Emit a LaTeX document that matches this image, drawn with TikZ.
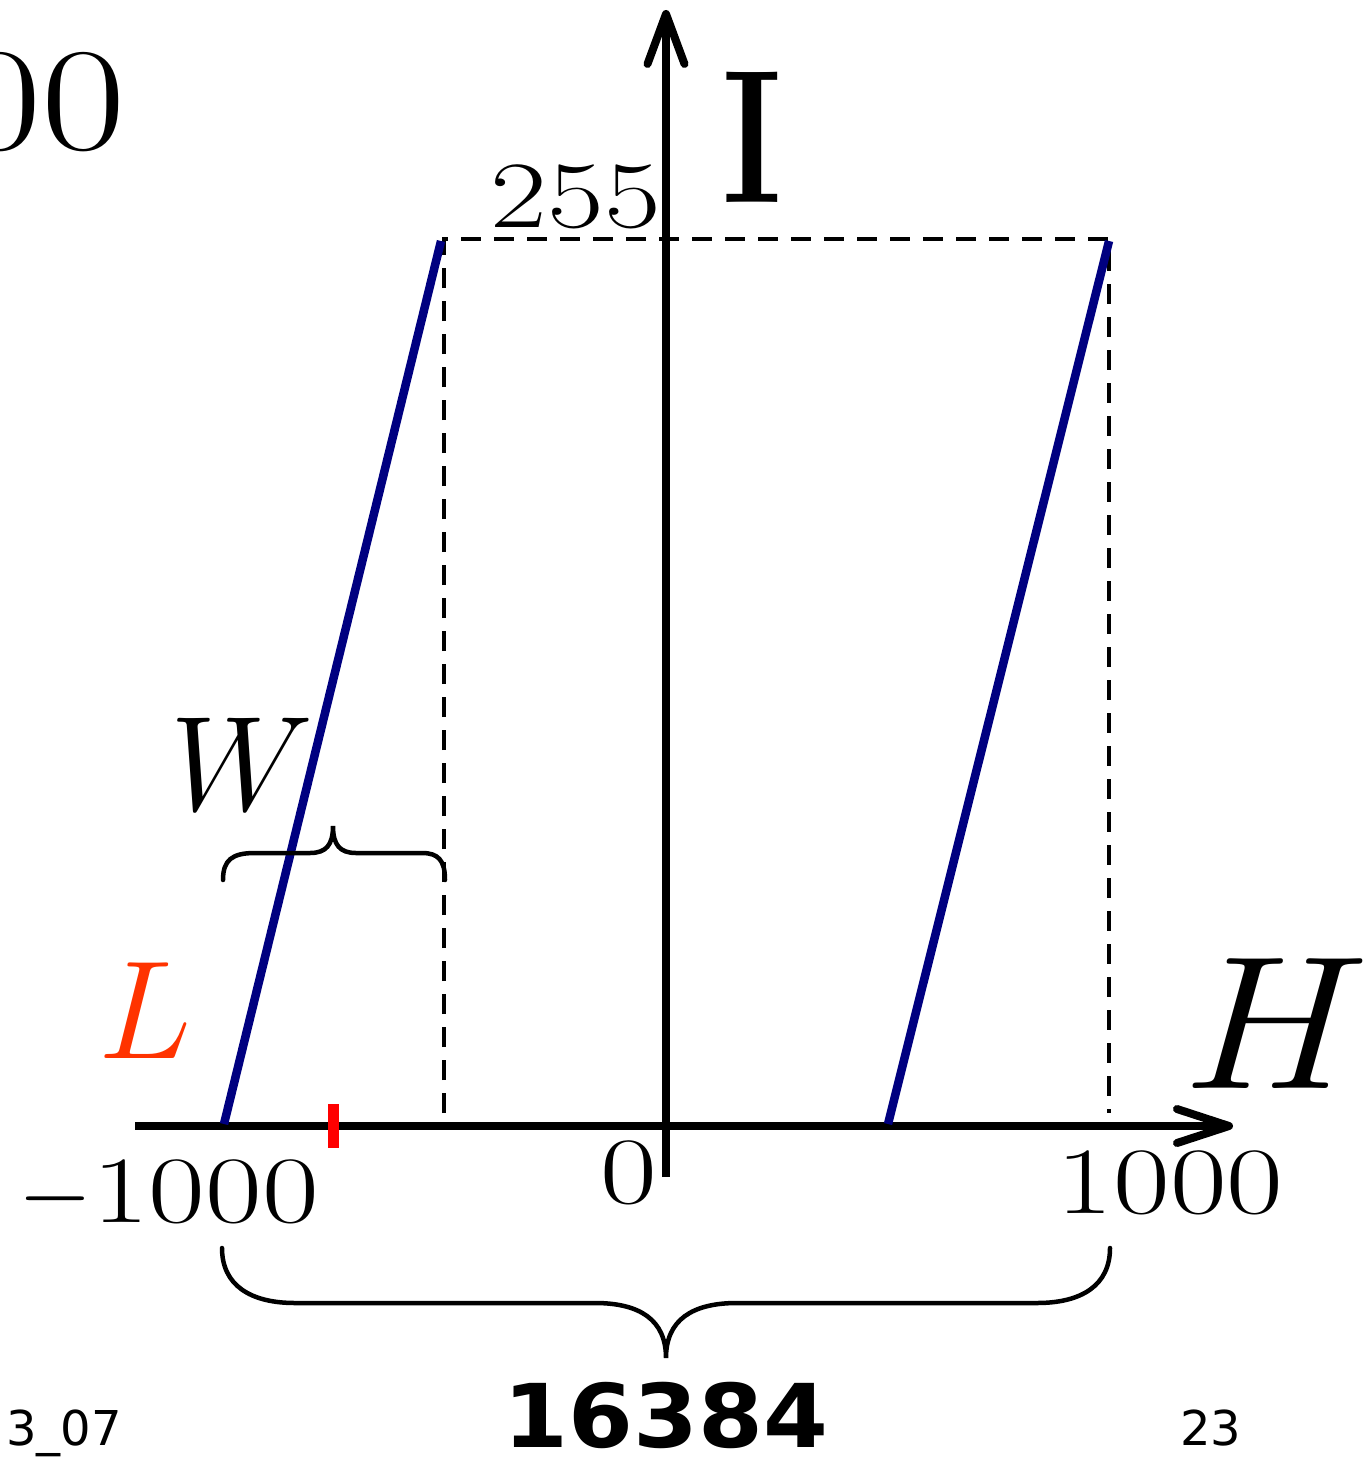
\RequirePackage{fix-cm}
\documentclass[tikz,border=0pt]{standalone}
\usepackage{fontspec}
\usepackage{graphicx}
\newfontfamily\dejavu{DejaVu Sans}
\usetikzlibrary{arrows.meta}
\definecolor{navyline}{RGB}{0,0,128}
\definecolor{lred}{RGB}{255,51,0}
\definecolor{tickred}{RGB}{255,0,0}
\begin{document}
\begin{tikzpicture}[x=1pt,y=-1pt,
  axis/.style={line width=8pt},
  dashline/.style={line width=4pt,dash pattern=on 20pt off 13pt},
  ramp/.style={line width=8.5pt,draw=navyline},
  bracepath/.style={line width=4.5pt,line cap=round},
  lbl/.style={inner sep=0pt,outer sep=0pt},
  num/.style={lbl,font=\fontsize{95}{100}\selectfont},
  tipH/.style={-{Straight Barb[length=52pt,width=34pt,line cap=round,line join=round]}},
  tipV/.style={-{Straight Barb[length=50pt,width=37pt,line cap=round,line join=round]}}]
\useasboundingbox (0,0) rectangle (1372,1458);
% coordinates
\coordinate (hstart) at (135,1126);
\coordinate (hend) at (1233,1126);
\coordinate (vstart) at (666,1177);
\coordinate (vend) at (666,10);
\coordinate (ltop) at (444,239);
\coordinate (rtop) at (1109,239);
\coordinate (lbot) at (444,1113);
\coordinate (rbot) at (1109,1113);
\coordinate (b1a) at (224,1124);
\coordinate (b1b) at (441,241);
\coordinate (b2a) at (888,1124);
\coordinate (b2b) at (1109,241);
\coordinate (tka) at (333,1104);
\coordinate (tkb) at (333,1148);
% dashed rectangle
\draw[dashline] (lbot) -- (ltop) -- (rtop) -- (rbot);
% axes
\draw[axis,tipH] (hstart) -- (hend);
\draw[axis,tipV] (vstart) -- (vend);
% ramps
\draw[ramp] (b1a) -- (b1b);
\draw[ramp] (b2a) -- (b2b);
% red tick
\draw[line width=11pt,draw=tickred] (tka) -- (tkb);
% small brace
\draw[bracepath] (223,880) .. controls (223,860) and (232,853) .. (255,853) -- (310,853)
  .. controls (326,853) and (333,845) .. (333,826)
  .. controls (333,845) and (340,853) .. (356,853) -- (422,853)
  .. controls (438,853) and (445,860) .. (445,880);
% big brace
\draw[bracepath] (222,1248) .. controls (222,1285) and (250,1303) .. (295,1303) -- (595,1303)
  .. controls (640,1303) and (666,1320) .. (666,1358)
  .. controls (666,1320) and (692,1303) .. (737,1303) -- (1037,1303)
  .. controls (1082,1303) and (1110,1285) .. (1110,1248);
% labels
\node[num,anchor=base] (t255) at (576,227) {\scalebox{1.3}[1]{255}};
\node[num,anchor=base] (t0) at (629,1203) {\scalebox{1.3}[1]{0}};
\node[num,anchor=base] (t1000) at (1170,1213) {\scalebox{1.3}[1]{1000}};
\node[num,anchor=base east] (tm1000) at (319,1222) {$-$\scalebox{1.3}[1]{1000}};
\node[lbl,anchor=base,font=\fontsize{190}{200}\selectfont\bfseries] (tI) at (752,203) {\scalebox{0.75}[1]{I}};
\node[lbl,anchor=base west,font=\fontsize{135}{140}\selectfont] (tW) at (170,810) {$W$};
\node[lbl,anchor=base west,font=\fontsize{140}{150}\selectfont,text=lred] (tL) at (98,1058) {$L$};
\node[lbl,anchor=base west,font=\fontsize{190}{200}\selectfont] (tH) at (1183,1088) {\scalebox{1.1}[1]{$H$}};
\begin{scope}
\clip (0,0) rectangle (1372,1458);
\node[lbl,anchor=base east,font=\fontsize{147}{150}\selectfont] (t00) at (126,150) {\scalebox{1.25}[1]{00}};
\end{scope}
\node[lbl,anchor=base west,font=\dejavu\fontsize{48}{50}\selectfont] (t307) at (6,1445) {3\_07};
\node[lbl,anchor=base west,font=\dejavu\fontsize{48}{50}\selectfont] (t23) at (1180,1445) {23};
\node[lbl,anchor=base,font=\dejavu\bfseries\fontsize{88}{90}\selectfont] (t16384) at (666,1447) {\scalebox{1.06}[1]{16384}};
\end{tikzpicture}
\end{document}
